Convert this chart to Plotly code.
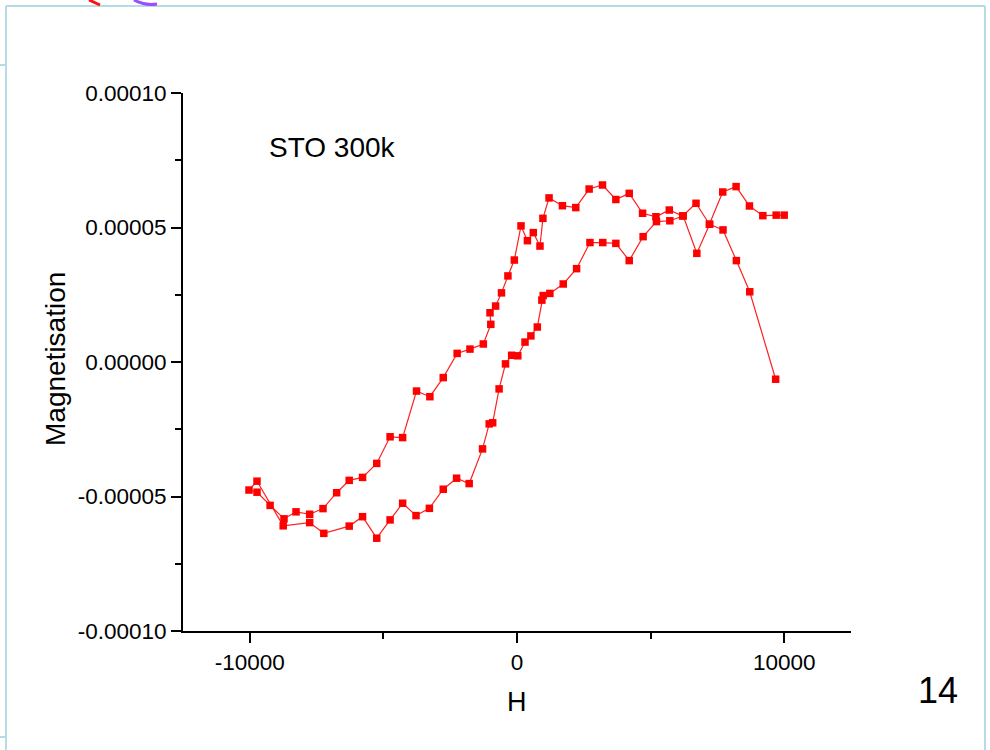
import plotly.graph_objects as go

# Field sweep from +10 kOe down to -10 kOe (descending branch)
H_down = [10000, 9700, 9200, 8700, 8200, 7700, 7200, 6700, 6200, 5700,
          5200, 4700, 4200, 3700, 3200, 2700, 2200, 1700, 1200, 970,
          860, 610, 390, 150, -100, -340, -580, -800, -1010, -980,
          -1260, -1760, -2240, -2760, -3260, -3760, -4280, -4750, -5250, -5780,
          -6280, -6750, -7260, -7760, -8270, -8720, -9240, -9730, -10030]
M_down = [5.46e-05, 5.46e-05, 5.44e-05, 5.80e-05, 6.52e-05, 6.32e-05, 5.12e-05, 5.90e-05, 5.43e-05, 5.65e-05,
          5.40e-05, 5.53e-05, 6.27e-05, 6.04e-05, 6.58e-05, 6.43e-05, 5.74e-05, 5.81e-05, 6.10e-05, 5.34e-05,
          4.31e-05, 4.81e-05, 4.51e-05, 5.06e-05, 3.79e-05, 3.20e-05, 2.57e-05, 2.08e-05, 1.83e-05, 1.40e-05,
          6.7e-06, 4.8e-06, 3.2e-06, -5.8e-06, -1.29e-05, -1.08e-05, -2.81e-05, -2.78e-05, -3.77e-05, -4.29e-05,
          -4.40e-05, -4.86e-05, -5.45e-05, -5.66e-05, -5.57e-05, -5.83e-05, -5.33e-05, -4.84e-05, -4.76e-05]

# Return sweep from -10 kOe back up (ascending branch)
H_up = [-9730, -8750, -7760, -7230, -6280, -5780, -5250, -4750, -4280, -3780,
        -3280, -2760, -2260, -1790, -1290, -1040, -910, -670, -430, -200,
        30, 300, 520, 760, 930, 980, 1230, 1730, 2230, 2730,
        3210, 3700, 4200, 4720, 5220, 5720, 6220, 6730, 7210, 7710,
        8210, 8710, 9680]
M_up = [-4.43e-05, -6.09e-05, -5.97e-05, -6.37e-05, -6.10e-05, -5.75e-05, -6.55e-05, -5.87e-05, -5.25e-05, -5.71e-05,
        -5.44e-05, -4.73e-05, -4.32e-05, -4.52e-05, -3.23e-05, -2.30e-05, -2.26e-05, -1.00e-05, -7e-07, 2.5e-06,
        2.3e-06, 7.4e-06, 9.7e-06, 1.30e-05, 2.30e-05, 2.47e-05, 2.55e-05, 2.90e-05, 3.47e-05, 4.44e-05,
        4.44e-05, 4.41e-05, 3.77e-05, 4.66e-05, 5.22e-05, 5.25e-05, 5.43e-05, 4.04e-05, 5.12e-05, 4.91e-05,
        3.77e-05, 2.61e-05, -6.4e-06]

x_tick_vals = [-10000, 0, 10000]
x_tick_text = ["-10000", "0", "10000"]
y_tick_vals = [-0.0001, -0.00005, 0, 0.00005, 0.0001]
y_tick_text = ["-0.00010", "-0.00005", "0.00000", "0.00005", "0.00010"]

W, Hpx = 990, 750
ML, MR, MT, MB = 183, 139, 93, 119
PW, PH = W - ML - MR, Hpx - MT - MB


def px(x):
    return (x - ML) / PW


def py(y):
    return (Hpx - MB - y) / PH


FONT = "Liberation Sans, Arial, sans-serif"
RED = "#ff0000"

fig = go.Figure()
fig.add_trace(go.Scatter(
    x=H_down + H_up, y=M_down + M_up,
    mode="lines+markers",
    line=dict(color="#ff2020", width=1.2),
    marker=dict(symbol="square", size=7.5, color=RED, line=dict(width=0)),
    showlegend=False,
    hoverinfo="x+y",
))

axis_common = dict(
    showline=True, linecolor="black", linewidth=2,
    ticks="outside", ticklen=10, tickwidth=2, tickcolor="black",
    showgrid=False, zeroline=False, mirror=False,
    tickfont=dict(family=FONT, size=22.5, color="black"),
)

fig.update_xaxes(
    range=[-12500, 12500], tickmode="array",
    tickvals=x_tick_vals, ticktext=x_tick_text,
    minor=dict(dtick=5000, tick0=0, ticks="outside", ticklen=6, tickwidth=2, tickcolor="black"),
    **axis_common,
)
fig.update_yaxes(
    range=[-0.0001, 0.0001], tickmode="array",
    tickvals=y_tick_vals, ticktext=y_tick_text,
    minor=dict(dtick=0.000025, tick0=0, ticks="outside", ticklen=6, tickwidth=2, tickcolor="black"),
    **axis_common,
)

annotations = [
    dict(text="STO 300k", x=px(267), y=py(147), xanchor="left", yanchor="middle",
         font=dict(size=28, family=FONT, color="black")),
    dict(text="H", x=px(517), y=py(702), xanchor="center", yanchor="middle",
         font=dict(size=27, family=FONT, color="black")),
    dict(text="Magnetisation", x=px(55), y=py(359), xanchor="center", yanchor="middle",
         textangle=-90, font=dict(size=28, family=FONT, color="black")),
    dict(text="14", x=px(938), y=py(690), xanchor="center", yanchor="middle",
         font=dict(size=36, family=FONT, color="black")),
]
for a in annotations:
    a.update(xref="paper", yref="paper", showarrow=False)

FRAME = "#b5dce3"
shapes = [
    # slide frame
    dict(type="line", x0=px(6), x1=px(985), y0=py(6), y1=py(6), line=dict(color=FRAME, width=2)),
    dict(type="line", x0=px(6), x1=px(6), y0=py(6), y1=py(760), line=dict(color=FRAME, width=2)),
    dict(type="line", x0=px(985), x1=px(985), y0=py(6), y1=py(760), line=dict(color=FRAME, width=2)),
    dict(type="line", x0=px(0), x1=px(6), y0=py(65), y1=py(65), line=dict(color=FRAME, width=2)),
    dict(type="line", x0=px(0), x1=px(6), y0=py(737), y1=py(737), line=dict(color=FRAME, width=2)),
    # fragments of the header graphic
    dict(type="line", x0=px(89), x1=px(100), y0=py(0), y1=py(5), line=dict(color="#ff1010", width=3)),
    dict(type="path",
         path=f"M {px(134)} {py(0)} Q {px(145)} {py(6)} {px(157)} {py(4)}",
         line=dict(color="#9b4dff", width=3)),
]
for s in shapes:
    s.update(xref="paper", yref="paper", layer="above")

fig.update_layout(
    width=W, height=Hpx,
    margin=dict(l=ML, r=MR, t=MT, b=MB, pad=0),
    paper_bgcolor="white", plot_bgcolor="white",
    annotations=annotations, shapes=shapes,
    font=dict(family=FONT, color="black"),
)

fig.write_html("out.html")
